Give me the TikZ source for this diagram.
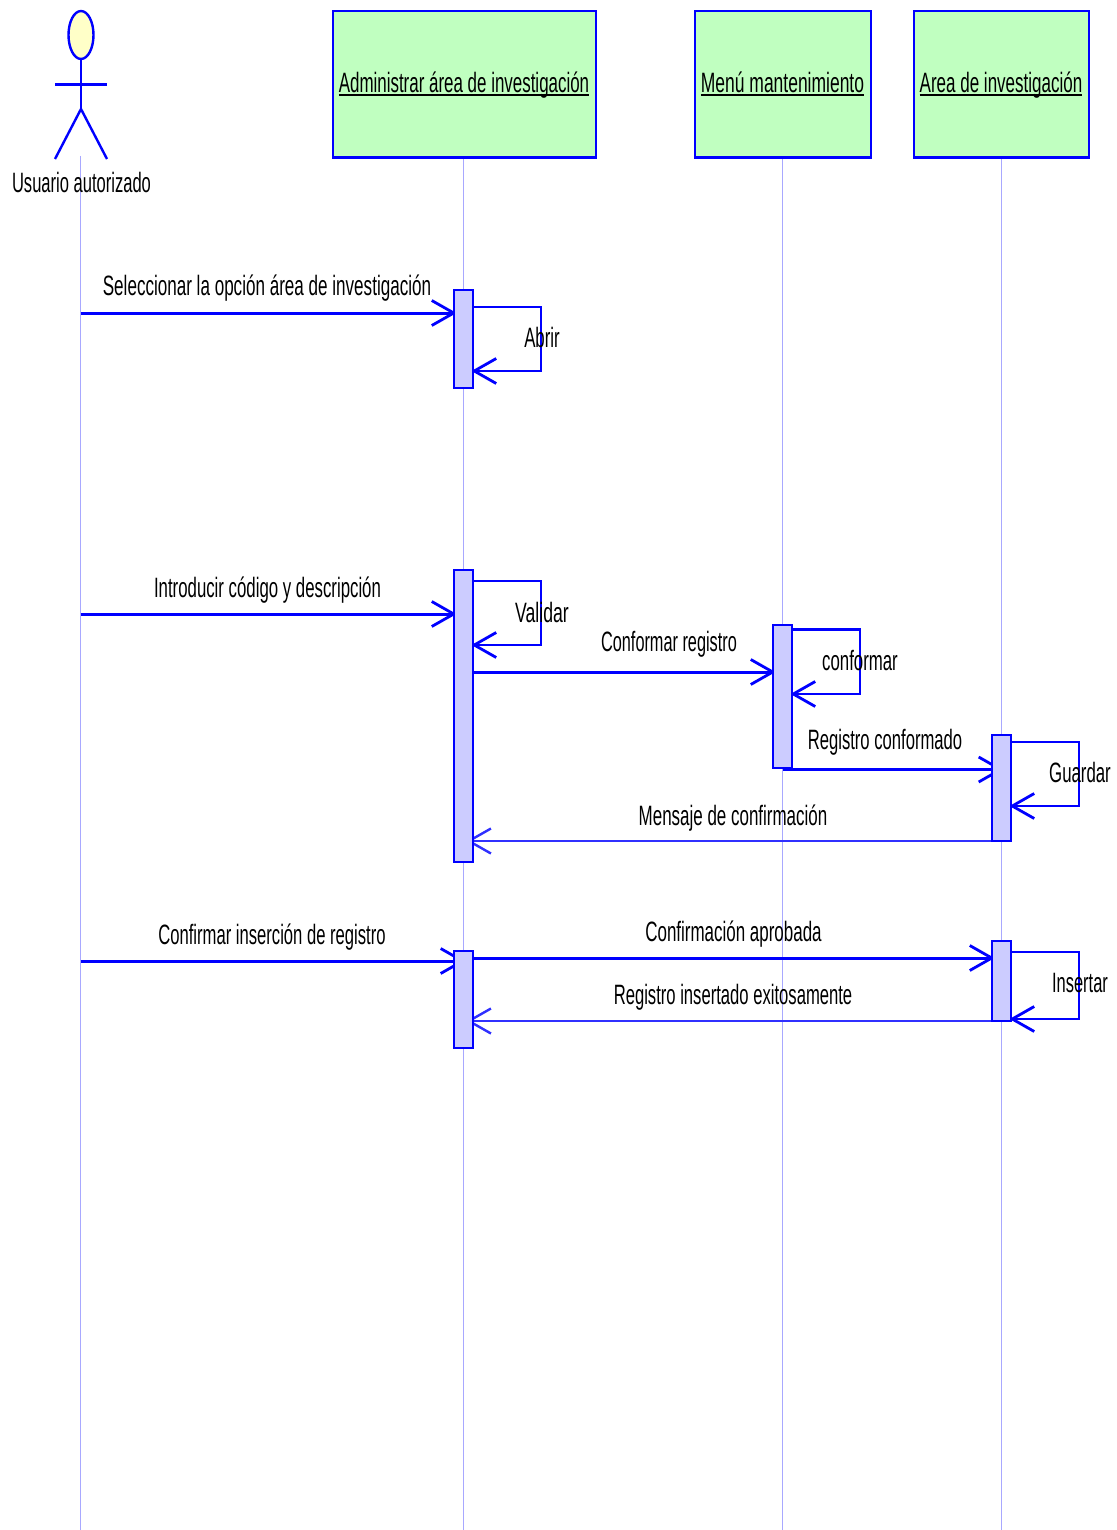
\documentclass[tikz,border=0pt]{standalone}
\usepackage{fontspec}
\usetikzlibrary{arrows.meta,shapes.geometric}
\setmainfont[FakeStretch=0.6]{Liberation Sans}
\definecolor{umlblue}{HTML}{0000FF}
\definecolor{lifec}{HTML}{A8A8FF}
\definecolor{barfill}{HTML}{CCCCFF}
\definecolor{boxfill}{HTML}{C0FFC0}
\definecolor{headfill}{HTML}{FFFFC8}
\definecolor{retblue}{HTML}{3030FF}
\newcommand{\ulbl}[1]{\setbox0\hbox{#1}\rlap{\rule[-3.5pt]{\wd0}{1.9pt}}\box0}
\newcommand{\sx}[2]{\scalebox{#1}[1]{#2}}
\pgfdeclarelayer{back}
\pgfdeclarelayer{mid}
\pgfsetlayers{back,mid,main}
\tikzset{
  lifeline/.style={draw=lifec,line width=1pt},
  classbox/.style={draw=umlblue,fill=boxfill,line width=1.8pt,rectangle,inner sep=0pt,minimum height=146pt},
  boxbase/.style={draw=umlblue,line width=2.8pt},
  actbar/.style={draw=umlblue,fill=barfill,line width=2.8pt,rectangle,inner sep=0pt,minimum width=19pt},
  msg/.style={draw=umlblue,line width=3pt,-{Straight Barb[length=22pt,width=25pt,line width=2.8pt]}},
  selfmsg/.style={draw=umlblue,line width=2.4pt,-{Straight Barb[length=22pt,width=25pt,line width=2.8pt]}},
  ret/.style={draw=retblue,line width=1.2pt,-{Straight Barb[length=22pt,width=25pt,line width=2.4pt]}},
  actorline/.style={draw=umlblue,line width=2.4pt},
  txt/.style={anchor=base,inner sep=0pt,font=\fontsize{28}{30}\selectfont,text=black},
}
\begin{document}
\begin{tikzpicture}[x=1pt,y=-1pt]
\useasboundingbox (0,0) rectangle (1116,1530);
\begin{pgfonlayer}{back}
\fill[white] (0,0) rectangle (1116,1530);
\end{pgfonlayer}
% class boxes
\node[classbox,minimum width=263pt] (boxA) at (464.5,84) {};
\node[classbox,minimum width=176pt] (boxB) at (783,84) {};
\node[classbox,minimum width=175pt] (boxC) at (1001.5,84) {};
\draw[boxbase] (boxA.south west) -- (boxA.south east);
\draw[boxbase] (boxB.south west) -- (boxB.south east);
\draw[boxbase] (boxC.south west) -- (boxC.south east);
\node[txt] (tA) at (464,92.5) {\sx{1.008}{\ulbl{Administrar área de investigación}}};
\node[txt] (tB) at (782.5,92.5) {\sx{1.04}{\ulbl{Menú mantenimiento}}};
\node[txt] (tC) at (1001,92.5) {\sx{1.012}{\ulbl{Area de investigación}}};
% actor
\coordinate (neck) at (81,59);
\coordinate (hip) at (81,109);
\coordinate (armL) at (55,85);
\coordinate (armR) at (107,85);
\coordinate (footL) at (55,159);
\coordinate (footR) at (107,159);
\coordinate (actorTop) at (80.5,156);
\draw[actorline,fill=headfill] (81,35) ellipse [x radius=12.5pt,y radius=24pt];
\draw[actorline] (neck) -- (hip);
\draw[actorline,line width=3pt] (armL) -- (armR);
\draw[actorline] (footL) -- (hip) -- (footR);
% activation bars
\node[actbar,minimum height=98pt] (b1) at (463.5,339) {};
\node[actbar,minimum height=292pt] (b2) at (463.5,716) {};
\node[actbar,minimum height=143pt] (b3) at (782.5,696.5) {};
\node[actbar,minimum height=106pt] (b4) at (1001.5,788) {};
\node[actbar,minimum height=97pt] (b5) at (463.5,999.5) {};
\node[actbar,minimum height=80pt] (b6) at (1001.5,981) {};
% lifelines
\coordinate (endU) at (80.5,1530);
\coordinate (endA) at (463.5,1530);
\coordinate (endB) at (782.5,1530);
\coordinate (endC) at (1001.5,1530);
\begin{pgfonlayer}{back}
\draw[lifeline] (actorTop) -- (endU);
\draw[lifeline] (boxA.south -| endA) -- (endA);
\draw[lifeline] (boxB.south -| endB) -- (endB);
\draw[lifeline] (boxC.south -| endC) -- (endC);
\end{pgfonlayer}
% messages
\begin{pgfonlayer}{mid}
\coordinate (u1) at (80.5,313);
\coordinate (u2) at (80.5,614);
\coordinate (u3) at (80.5,961);
\draw[msg] (u1) -- ([xshift=4pt]b1.west |- u1);
\draw[msg] (u2) -- ([xshift=4pt]b2.west |- u2);
\draw[msg] (u3) -- ([xshift=2pt]b5.center |- u3);
\coordinate (y4) at (0,672);
\draw[msg] (b2.east |- y4) -- ([xshift=4pt]b3.west |- y4);
\coordinate (y5) at (0,769.5);
\draw[msg] (b3.center |- y5) -- ([xshift=2pt]b4.center |- y5);
\coordinate (y6) at (0,841);
\draw[ret] (b4.center |- y6) -- ([xshift=3pt]b2.center |- y6);
\coordinate (y7) at (0,958);
\draw[msg] (b5.east |- y7) -- ([xshift=4pt]b6.west |- y7);
\coordinate (y8) at (0,1021);
\draw[ret] (b6.center |- y8) -- ([xshift=3pt]b5.center |- y8);
% self messages
\draw[selfmsg] (b1.east |- 0,307) -- (541,307) -- (541,371) -- ([xshift=-3pt]b1.east |- 0,371);
\draw[selfmsg] (b2.east |- 0,581) -- (541,581) -- (541,645) -- ([xshift=-3pt]b2.east |- 0,645);
\draw[selfmsg] (b3.east |- 0,629.5) -- (860,629.5) -- (860,694) -- ([xshift=-3pt]b3.east |- 0,694);
\draw[selfmsg] (b4.east |- 0,742) -- (1079,742) -- (1079,806) -- ([xshift=-3pt]b4.east |- 0,806);
\draw[selfmsg] (b6.east |- 0,952) -- (1079,952) -- (1079,1019) -- ([xshift=-3pt]b6.east |- 0,1019);
\end{pgfonlayer}
% labels
\node[txt] (lU) at (81.5,193) {\sx{.985}{Usuario autorizado}};
\node[txt] (l1) at (267,295.5) {\sx{1.016}{Seleccionar la opción área de investigación}};
\node[txt] (l2) at (542,347.5) {Abrir};
\node[txt] (l3) at (267.5,597.5) {Introducir código y descripción};
\node[txt] (l4) at (542,622) {\sx{1.05}{Validar}};
\node[txt] (l5) at (669,651.5) {\sx{.97}{Conformar registro}};
\node[txt] (l6) at (860,670.5) {conformar};
\node[txt] (l7) at (885,749.5) {\sx{.99}{Registro conformado}};
\node[txt] (l8) at (1080,782) {Guardar};
\node[txt] (l9) at (733,825) {\sx{1.01}{Mensaje de confirmación}};
\node[txt] (l10) at (272,944.5) {\sx{.99}{Confirmar inserción de registro}};
\node[txt] (l11) at (733.5,941.5) {\sx{1.01}{Confirmación aprobada}};
\node[txt] (l12) at (733,1004.5) {\sx{.99}{Registro insertado exitosamente}};
\node[txt] (l13) at (1080,992.5) {\sx{.98}{Insertar}};
\end{tikzpicture}
\end{document}
